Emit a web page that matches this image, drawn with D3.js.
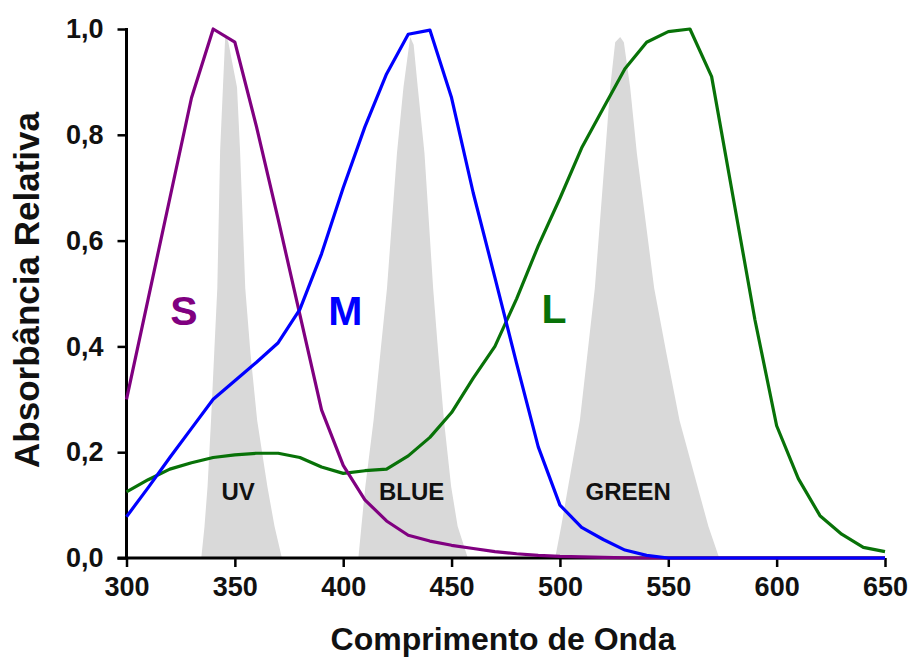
<!DOCTYPE html>
<html>
<head>
<meta charset="utf-8">
<script src="https://cdn.jsdelivr.net/npm/d3@7"></script>
<style>
  body { margin: 0; background: #fff; }
  text { font-family: "Liberation Sans", Arial, sans-serif; font-weight: bold; }
</style>
</head>
<body>
<script>
var width = 909,
    height = 659;

// wavelengths (nm) for the three cone curves
var waves = [300, 310, 320, 330, 340, 350, 360, 370, 380, 390, 400, 410, 420, 430, 440, 450,
             460, 470, 480, 490, 500, 510, 520, 530, 540, 550, 560, 570, 580, 590, 600,
             610, 620, 630, 640, 650];

var sValues = [0.30, 0.49, 0.68, 0.87, 1.00, 0.975, 0.815, 0.64, 0.46, 0.28, 0.175, 0.11, 0.07, 0.043,
               0.032, 0.024, 0.018, 0.012, 0.008, 0.005, 0.003, 0.002, 0.001, 0.0005, 0, 0, 0, 0, 0, 0, 0,
               0, 0, 0, 0, 0];

var mValues = [0.078, 0.133, 0.19, 0.245, 0.30, 0.335, 0.37, 0.407, 0.47, 0.575, 0.70, 0.815, 0.915, 0.99,
               0.998, 0.87, 0.69, 0.53, 0.368, 0.21, 0.10, 0.058, 0.035, 0.015, 0.005, 0, 0, 0, 0, 0, 0,
               0, 0, 0, 0, 0];

var lValues = [0.125, 0.148, 0.168, 0.18, 0.19, 0.195, 0.198, 0.198, 0.19, 0.172, 0.16, 0.165, 0.168, 0.193,
               0.228, 0.275, 0.34, 0.40, 0.49, 0.59, 0.68, 0.775, 0.85, 0.925, 0.975, 0.995, 1.0, 0.91,
               0.68, 0.45, 0.25, 0.15, 0.08, 0.045, 0.02, 0.012];

// gray sensitivity bands: [wavelength, value]
var uvBand = [[334.5, 0], [336, 0.06], [337.4, 0.135], [339, 0.26], [340.5, 0.39], [341.9, 0.51],
              [343.2, 0.77], [344.5, 0.89], [345.6, 0.99], [347, 0.975], [351, 0.89], [352.4, 0.77],
              [354.8, 0.51], [357.2, 0.387], [360.3, 0.26], [365, 0.135], [368.3, 0.06], [371.7, 0]];
var blueBand = [[407, 0], [408.4, 0.06], [410.2, 0.135], [414, 0.26], [417.2, 0.39], [420.2, 0.51],
                [424.8, 0.765], [427.8, 0.89], [430.9, 0.985], [432.5, 0.97], [434.4, 0.89],
                [437.5, 0.765], [441.5, 0.51], [443.8, 0.39], [446.5, 0.26], [449.8, 0.135],
                [452.8, 0.06], [457.5, 0]];
var greenBand = [[497.8, 0], [500.6, 0.06], [503.8, 0.135], [509.2, 0.26], [512.8, 0.39], [516.1, 0.51],
                 [520.9, 0.765], [523.2, 0.89], [525.5, 0.975], [527.8, 0.985], [529.5, 0.975],
                 [532.4, 0.89], [535.5, 0.765], [543.5, 0.51], [549, 0.39], [555.2, 0.26],
                 [563.5, 0.135], [568.5, 0.06], [573.5, 0]];

var bandNames = ["UV", "BLUE", "GREEN"];
var curveNames = ["S", "M", "L"];

var xTicks = [300, 350, 400, 450, 500, 550, 600, 650];
var yTicks = [0, 0.2, 0.4, 0.6, 0.8, 1.0];

var x = d3.scaleLinear().domain([300, 650]).range([126.5, 885]);
var y = d3.scaleLinear().domain([0, 1]).range([558, 29]);

var svg = d3.select("body").append("svg")
    .attr("width", width)
    .attr("height", height);

// bands
var bandLine = d3.line()
    .x(function (d) { return x(d[0]); })
    .y(function (d) { return y(d[1]); });

svg.selectAll(".band")
    .data([uvBand, blueBand, greenBand])
    .enter().append("path")
    .attr("class", "band")
    .attr("d", function (d) { return bandLine(d) + "Z"; })
    .style("fill", "#d9d9d9")
    .style("stroke", "none");

// band labels
var bandLabelAt = [[351.5, 0.11], [431.6, 0.11], [531.5, 0.11]];
svg.selectAll(".bandLabel")
    .data(bandNames)
    .enter().append("text")
    .attr("class", "bandLabel")
    .attr("x", function (d, i) { return x(bandLabelAt[i][0]); })
    .attr("y", function (d, i) { return y(bandLabelAt[i][1]); })
    .attr("text-anchor", "middle")
    .style("font-size", "24px")
    .style("fill", "#111")
    .text(function (d) { return d; });

// axes
var xAxis = d3.axisBottom(x).tickValues(xTicks).tickSize(9).tickSizeOuter(0).tickPadding(10);
var yAxis = d3.axisLeft(y).tickValues(yTicks).tickSize(9).tickSizeOuter(0).tickPadding(14)
    .tickFormat(function (d) { return d3.format(".1f")(d).replace(".", ","); });

var gx = svg.append("g").attr("transform", "translate(0," + y(0) + ")").call(xAxis);
var gy = svg.append("g").attr("transform", "translate(" + x(300) + ",0)").call(yAxis);

[gx, gy].forEach(function (g) {
    g.select(".domain").style("stroke", "#000").style("stroke-width", 3);
    g.selectAll(".tick line").style("stroke", "#000").style("stroke-width", 2.5);
    g.selectAll(".tick text")
        .style("font-family", "'Liberation Sans', Arial, sans-serif")
        .style("font-weight", "bold")
        .style("font-size", "27px")
        .style("fill", "#111");
});
gy.select(".domain").attr("d", "M0," + y(0) + "V" + (y(1) - 1));
gx.select(".domain").attr("d", "M" + (x(300) - 9) + ",0H" + x(650));

// curves
var colors = ["#800080", "#0000ff", "#087208"];
var series = [sValues, mValues, lValues];

var curveLine = d3.line()
    .x(function (d, i) { return x(waves[i]); })
    .y(function (d) { return y(d); });

svg.selectAll(".curve")
    .data([lValues, sValues, mValues])
    .enter().append("path")
    .attr("class", "curve")
    .attr("d", curveLine)
    .style("fill", "none")
    .style("stroke", function (d) { return colors[series.indexOf(d)]; })
    .style("stroke-width", 3.2)
    .style("stroke-linejoin", "round");

// curve letters
var letterAt = [[326.5, 0.44], [401, 0.44], [497.3, 0.445]];
svg.selectAll(".letter")
    .data(curveNames)
    .enter().append("text")
    .attr("class", "letter")
    .attr("x", function (d, i) { return x(letterAt[i][0]); })
    .attr("y", function (d, i) { return y(letterAt[i][1]); })
    .attr("text-anchor", "middle")
    .style("font-size", "41px")
    .style("fill", function (d, i) { return colors[i]; })
    .text(function (d) { return d; });

// axis titles
svg.append("text")
    .attr("x", 503)
    .attr("y", 650)
    .attr("text-anchor", "middle")
    .style("font-size", "32px")
    .style("fill", "#111")
    .text("Comprimento de Onda");

svg.append("text")
    .attr("transform", "translate(39,290) rotate(-90)")
    .attr("text-anchor", "middle")
    .style("font-size", "35px")
    .style("fill", "#111")
    .text("Absorbância Relativa");
</script>
</body>
</html>
